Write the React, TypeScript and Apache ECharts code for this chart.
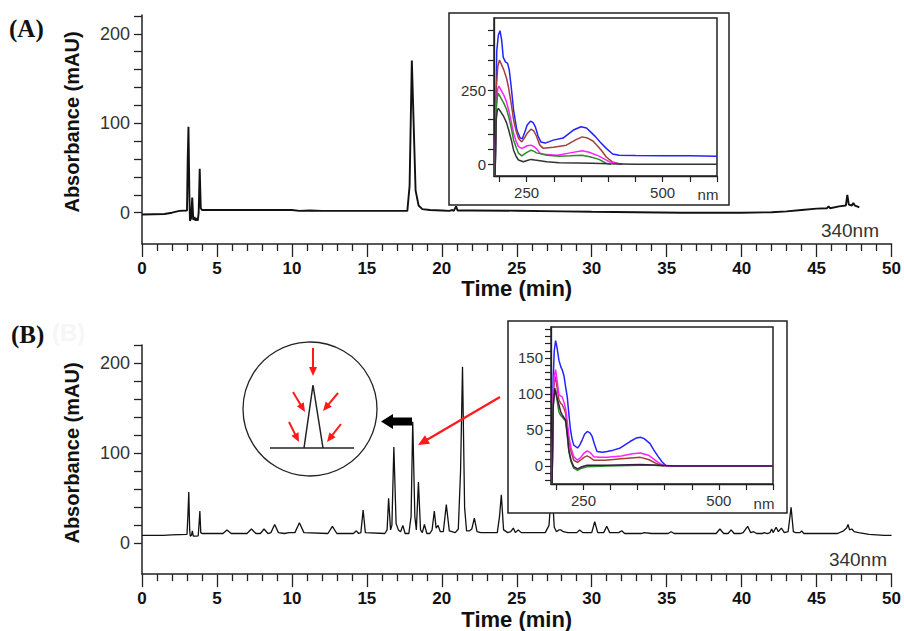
import React, { useEffect, useRef } from "react";
import * as echarts from "echarts";

// ---------- Data ----------
// Chromatogram (A): [time (min), absorbance (mAU)]
const chromA: [number, number][] = [
  [0, -2], [1.5, -1.5], [2, 0], [2.5, 2], [3.0, 2.5], [3.05, 60], [3.1, 96], [3.16, 20], [3.2, -9],
  [3.28, -6], [3.35, 17], [3.42, -8], [3.5, -5], [3.58, -9], [3.65, -6], [3.72, -9], [3.78, 0],
  [3.85, 49], [3.92, 5], [4.0, 3], [7, 3], [10, 3], [10.5, 2], [11.2, 2.5], [12, 2], [17.7, 2],
  [17.85, 30], [18.0, 170], [18.12, 100], [18.25, 25], [18.45, 8], [18.7, 4], [19.2, 3], [20, 2.5],
  [20.5, 2], [20.7, 3], [20.8, 2], [20.95, 7], [21.05, 2.5], [22, 2.5], [25, 2.2], [28, 1.5], [30, 1],
  [33, 0.5], [36, 0], [40, 0], [42, 0.5], [43, 1.5], [44, 3], [45, 4.5], [45.7, 5], [45.8, 7],
  [45.9, 5], [46.5, 7], [46.95, 8], [47.05, 20], [47.15, 9], [47.35, 8], [47.45, 11], [47.55, 8],
  [47.7, 7], [47.85, 6],
];

// Chromatogram (B)
const chromB: [number, number][] = [
  [0, 9], [1.4, 9], [2, 9.5], [3.0, 10], [3.06, 30], [3.12, 57], [3.18, 15], [3.22, 8], [3.3, 9],
  [3.36, 14], [3.42, 8], [3.6, 8], [3.75, 8.5], [3.82, 25], [3.86, 36], [3.92, 12], [4.0, 11],
  [5.4, 11], [5.67, 15], [5.95, 11], [7.0, 11], [7.3, 16], [7.6, 11], [7.9, 11], [8.14, 16],
  [8.4, 11], [8.6, 12], [8.85, 21], [9.1, 12], [9.5, 11], [9.8, 12], [10.2, 12], [10.5, 23],
  [10.8, 12], [12.4, 11], [12.7, 19], [13.0, 11], [14.1, 11], [14.3, 14], [14.45, 11], [14.6, 12],
  [14.75, 37], [14.9, 12], [16.2, 11], [16.35, 15], [16.45, 50], [16.58, 15], [16.67, 20],
  [16.8, 107], [16.95, 22], [17.1, 15], [17.25, 13], [17.4, 20], [17.55, 11], [17.8, 11],
  [17.95, 30], [18.06, 135], [18.2, 30], [18.3, 15], [18.44, 68], [18.58, 15], [18.7, 12],
  [18.84, 21], [19.0, 11], [19.2, 11], [19.35, 15], [19.5, 36], [19.62, 17], [19.75, 20],
  [19.9, 13], [20.1, 13], [20.3, 43], [20.5, 14], [20.9, 12], [21.1, 16], [21.25, 80],
  [21.38, 196], [21.52, 40], [21.65, 14], [21.85, 14], [22.0, 16], [22.17, 28], [22.35, 13],
  [22.6, 12], [23.7, 12], [23.85, 30], [23.97, 54], [24.12, 15], [24.4, 12], [24.6, 13],
  [24.77, 17], [24.9, 12], [25.1, 15], [25.3, 12], [26.9, 12], [27.15, 20], [27.34, 65],
  [27.5, 18], [27.65, 13], [27.8, 15], [27.95, 15], [28.1, 13], [28.4, 12], [29.0, 12],
  [29.2, 15], [29.4, 12], [30.0, 12], [30.2, 24], [30.4, 12], [30.8, 12], [31.0, 19], [31.2, 12],
  [31.8, 12], [32.0, 14], [32.2, 11], [33.3, 11], [33.5, 12], [34, 11], [35.1, 11], [35.3, 13],
  [35.5, 11], [38.3, 11], [38.55, 16], [38.8, 11], [39.1, 11], [39.3, 15], [39.5, 11], [39.9, 11],
  [40.1, 12], [40.4, 19], [40.6, 12], [40.8, 13], [41.0, 11], [41.4, 11], [41.5, 12], [41.7, 11],
  [41.9, 12], [42.0, 16], [42.1, 12], [42.3, 18], [42.45, 13], [42.65, 17], [42.85, 12],
  [43.1, 13], [43.3, 40], [43.45, 13], [43.6, 12], [43.9, 12], [44.0, 14], [44.15, 11],
  [45.5, 11], [46.4, 11], [46.8, 14], [47.0, 17], [47.1, 21], [47.2, 15], [47.35, 16],
  [47.5, 13], [47.8, 12], [48.5, 10], [49.5, 9], [50, 9],
];

// UV spectra, inset (A): [wavelength (nm), absorbance]
const blueA: [number, number][] = [
  [192, -40], [195, 380], [198, 435], [201, 450], [204, 420], [207, 360], [211, 345], [215, 340],
  [218, 318], [222, 255], [226, 182], [232, 115], [238, 88], [242, 86], [246, 105], [251, 132],
  [257, 145], [262, 140], [266, 126], [271, 95], [276, 75], [284, 71], [299, 81], [317, 88],
  [336, 115], [350, 126], [360, 122], [368, 108], [377, 92], [385, 75], [396, 54], [408, 34],
  [420, 30], [450, 29], [500, 28], [550, 28], [600, 27],
];
const brownA: [number, number][] = [
  [192, -40], [194, 250], [197, 330], [200, 351], [204, 335], [208, 318], [213, 290], [217, 256],
  [222, 200], [226, 149], [231, 110], [235, 87], [241, 75], [246, 88], [251, 104], [258, 118],
  [263, 112], [268, 95], [274, 65], [280, 54], [299, 57], [323, 64], [340, 82], [352, 92],
  [362, 88], [372, 78], [380, 62], [388, 45], [396, 25], [408, 7], [420, 1], [426, 0],
];
const magentaA: [number, number][] = [
  [192, -40], [194, 200], [197, 255], [199, 263], [203, 250], [208, 233], [213, 210], [217, 182],
  [222, 140], [226, 104], [231, 75], [235, 59], [241, 53], [246, 57], [251, 62], [258, 64],
  [263, 60], [268, 52], [274, 38], [280, 33], [307, 30], [330, 38], [352, 45], [365, 40],
  [383, 27], [395, 15], [402, 8], [415, 2], [426, 0],
];
const greenA: [number, number][] = [
  [192, -40], [194, 180], [196, 225], [198, 239], [203, 222], [208, 206], [213, 185], [217, 160],
  [222, 120], [226, 81], [231, 55], [235, 37], [241, 28], [249, 38], [258, 47], [263, 44],
  [268, 38], [278, 34], [287, 30], [310, 27], [330, 28], [352, 30], [368, 24], [383, 16],
  [396, 3], [405, 0],
];
const blackA: [number, number][] = [
  [192, -40], [194, 150], [196, 180], [198, 188], [203, 175], [208, 160], [213, 140], [217, 115],
  [222, 80], [226, 47], [231, 25], [235, 14], [244, 8], [251, 12], [258, 16], [265, 14], [287, 8],
  [310, 5], [343, 4], [370, 3], [400, 1], [450, 0], [500, 0], [550, 0], [600, 0],
];

// UV spectra, inset (B)
const blueB: [number, number][] = [
  [192, -25], [194, 120], [196, 160], [198.5, 174], [201, 165], [204.6, 147], [208, 138],
  [211, 133], [214, 125], [217, 110], [220, 96], [223, 72], [226, 50], [229, 37], [232, 29],
  [239, 25], [243, 29], [247.5, 36], [252, 44], [257, 48], [262, 46], [266, 41], [270, 31],
  [275, 20], [285, 19], [293.5, 20], [305, 22], [318, 25], [336, 34], [348, 39], [355, 40],
  [362, 38], [373, 31], [380, 22], [388, 13], [395, 6], [403, 0], [450, 0], [500, 0], [550, 0],
  [600, 0],
];
const brownB: [number, number][] = [
  [192, -25], [194, 95], [196, 115], [198.5, 124], [201, 110], [204.6, 92], [208, 87],
  [210.7, 85], [214, 80], [217, 73], [220, 55], [223, 36], [227, 20], [232, 8], [239, 5],
  [246, 9], [251, 12], [256.7, 14], [262, 12], [269, 8], [290, 8], [320, 10], [355, 12],
  [370, 9], [386, 3], [398, 0],
];
const magentaB: [number, number][] = [
  [192, -25], [194, 100], [196, 125], [198.5, 134], [201, 120], [204.6, 99], [208, 97],
  [210.7, 96], [214, 88], [217, 80], [220, 62], [223, 41], [227, 25], [232, 13], [239, 8],
  [245, 12], [251, 18], [256.7, 21], [262, 19], [269, 13], [280, 12], [293.5, 12], [320, 14],
  [340, 17], [355, 18], [370, 15], [386, 6], [395, 2], [403, 0], [500, 0], [600, 0],
];
const greenB: [number, number][] = [
  [192, -25], [194, 85], [196, 98], [198.5, 105], [201, 92], [204.6, 75], [208, 70],
  [210.7, 68], [214, 65], [217, 62], [220, 42], [223, 20], [227, 6], [232, -3], [239, -6],
  [247, -3], [256.7, -1], [293.5, 0], [355, 1], [380, 1], [400, 0],
];
const blackB: [number, number][] = [
  [192, -25], [194, 80], [196, 100], [197, 108], [201, 95], [204.6, 85], [208, 75], [210.7, 71],
  [214, 67], [217, 64], [220, 45], [223, 22], [227, 8], [232, -1], [239, -4], [247, -1],
  [256.7, 1], [293.5, 1], [355, 2], [390, 1], [420, 0], [500, 0], [600, 0],
];

// Tick values
const mainYTicks = [0, 20, 40, 60, 80, 100, 120, 140, 160, 180, 200, 220];
const mainYLabels = [0, 100, 200];
const insetXTicks = [200, 250, 300, 350, 400, 450, 500, 550, 600];
const insetXLabels = [250, 500];
const insetAYTicks = [0, 50, 100, 150, 200, 250, 300, 350, 400, 450];
const insetAYLabels = [0, 250];
const insetBYTicks = [-20, -10, 0, 10, 20, 30, 40, 50, 60, 70, 80, 90, 100, 110, 120, 130, 140, 150, 160, 170, 180, 190];
const insetBYLabels = [0, 50, 100, 150];

const SANS = "'Liberation Sans', Arial, sans-serif";
const SERIF = "'Liberation Serif', 'Times New Roman', serif";
const AX = "#222";

const specColors = {
  blue: "#2323ff",
  brown: "#a23f3a",
  magenta: "#ff22ff",
  green: "#2b8a2b",
  black: "#333333",
};

function mainX(gridIndex: number) {
  return {
    type: "value",
    gridIndex,
    min: 0,
    max: 50,
    interval: 5,
    axisLine: { onZero: false, lineStyle: { color: AX, width: 1.5 } },
    axisTick: { length: 13, lineStyle: { color: AX, width: 1.3 } },
    minorTick: { show: true, splitNumber: 5, length: 7, lineStyle: { color: AX, width: 1.3 } },
    splitLine: { show: false },
    axisLabel: { fontFamily: SANS, fontWeight: "bold", fontSize: 17, color: "#111", margin: 16 },
    name: "Time (min)",
    nameLocation: "middle",
    nameGap: 33,
    nameTextStyle: { fontFamily: SANS, fontWeight: "bold", fontSize: 22, color: "#111" },
  };
}

function mainY(gridIndex: number, min: number, max: number) {
  return {
    type: "value",
    gridIndex,
    min,
    max,
    axisLine: { show: true, onZero: false, lineStyle: { color: AX, width: 1.5 } },
    axisTick: { show: true, customValues: mainYTicks, length: 8, lineStyle: { color: AX, width: 1.3 } },
    axisLabel: { customValues: mainYLabels, fontFamily: SANS, fontSize: 18, color: "#333", margin: 12 },
    splitLine: { show: false },
  };
}

function insetX(gridIndex: number) {
  return {
    type: "value",
    gridIndex,
    min: 190,
    max: 600,
    z: 10,
    axisLine: { show: true, onZero: false, lineStyle: { color: AX, width: 1.3 } },
    axisTick: { show: true, customValues: insetXTicks, length: 6, lineStyle: { color: AX, width: 1.2 } },
    axisLabel: { customValues: insetXLabels, fontFamily: SANS, fontSize: 15, color: "#333", margin: 9 },
    splitLine: { show: false },
  };
}

function insetY(gridIndex: number, min: number, max: number, ticks: number[], labels: number[]) {
  return {
    type: "value",
    gridIndex,
    min,
    max,
    z: 10,
    axisLine: { show: true, onZero: false, lineStyle: { color: AX, width: 1.3 } },
    axisTick: { show: true, customValues: ticks, length: 6, lineStyle: { color: AX, width: 1.2 } },
    axisLabel: { customValues: labels, fontFamily: SANS, fontSize: 15, color: "#333", margin: 8 },
    splitLine: { show: false },
  };
}

function lineSeries(data: [number, number][], axisIndex: number, color: string, width: number, z: number) {
  return {
    type: "line",
    xAxisIndex: axisIndex,
    yAxisIndex: axisIndex,
    data,
    showSymbol: false,
    symbol: "none",
    clip: true,
    z,
    lineStyle: { color, width },
    emphasis: { disabled: true },
  };
}

function arrow(x1: number, y1: number, x2: number, y2: number, color: string, lw: number, hl: number, hw: number, z: number) {
  const dx = x2 - x1;
  const dy = y2 - y1;
  const len = Math.sqrt(dx * dx + dy * dy);
  const ux = dx / len;
  const uy = dy / len;
  const bx = x2 - ux * hl;
  const by = y2 - uy * hl;
  const px = -uy * hw / 2;
  const py = ux * hw / 2;
  return [
    { type: "line", z, shape: { x1, y1, x2: bx + ux, y2: by + uy }, style: { stroke: color, lineWidth: lw } },
    {
      type: "polygon",
      z,
      shape: { points: [[x2, y2], [bx + px, by + py], [bx - px, by - py]] },
      style: { fill: color },
    },
  ];
}

export default function App() {
  const ref = useRef<HTMLDivElement>(null);

  useEffect(() => {
    if (!ref.current) return;
    const chart = echarts.init(ref.current, null, { renderer: "svg" });

    const RED = "#ff1a1a";
    const graphic: any[] = [
      // inset outer frames
      { type: "rect", z: 5, shape: { x: 449, y: 13, width: 280, height: 192 }, style: { fill: "#fff", stroke: "#222", lineWidth: 1.5 } },
      { type: "rect", z: 5, shape: { x: 508, y: 321, width: 279, height: 192 }, style: { fill: "#fff", stroke: "#222", lineWidth: 1.5 } },
      // circle diagram
      { type: "circle", z: 5, shape: { cx: 310, cy: 409, r: 67 }, style: { fill: "#fff", stroke: "#222", lineWidth: 1.3 } },
      { type: "polyline", z: 6, shape: { points: [[304, 448], [313, 385], [323, 448]] }, style: { stroke: "#222", lineWidth: 1.5, fill: null } },
      { type: "line", z: 6, shape: { x1: 270, y1: 448, x2: 354, y2: 448 }, style: { stroke: "#222", lineWidth: 1.3 } },
      ...arrow(313, 348, 313, 376, RED, 2, 9, 8, 7),
      ...arrow(293, 392, 305, 412, RED, 2, 9, 8, 7),
      ...arrow(289, 422, 299, 442, RED, 2, 9, 8, 7),
      ...arrow(338, 393, 323, 411, RED, 2, 9, 8, 7),
      ...arrow(341, 424, 327, 442, RED, 2, 9, 8, 7),
      // black thick arrow
      {
        type: "polygon",
        z: 7,
        shape: { points: [[381, 421.5], [393, 414], [393, 417.5], [412, 417.5], [412, 425.5], [393, 425.5], [393, 429]] },
        style: { fill: "#000" },
      },
      // long red arrow to peak
      ...arrow(500, 397, 418, 445, RED, 2.2, 11, 10, 20),
      // labels
      { type: "text", z: 20, x: 9, y: 28, style: { text: "(A)", font: `bold 25px ${SERIF}`, fill: "#111", align: "left", verticalAlign: "middle" } },
      { type: "text", z: 20, x: 52, y: 332, style: { text: "(B)", font: `bold 24px ${SANS}`, fill: "#f6f6f6", align: "left", verticalAlign: "middle" } },
      { type: "text", z: 20, x: 11, y: 334, style: { text: "(B)", font: `bold 25px ${SERIF}`, fill: "#111", align: "left", verticalAlign: "middle" } },
      { type: "text", z: 20, x: 879, y: 230, style: { text: "340nm", font: `19px ${SANS}`, fill: "#333", align: "right", verticalAlign: "middle" } },
      { type: "text", z: 20, x: 887, y: 559, style: { text: "340nm", font: `19px ${SANS}`, fill: "#333", align: "right", verticalAlign: "middle" } },
      { type: "text", z: 20, x: 72, y: 122, rotation: Math.PI / 2, style: { text: "Absorbance (mAU)", font: `bold 20px ${SANS}`, fill: "#111", align: "center", verticalAlign: "middle" } },
      { type: "text", z: 20, x: 72, y: 453, rotation: Math.PI / 2, style: { text: "Absorbance (mAU)", font: `bold 20px ${SANS}`, fill: "#111", align: "center", verticalAlign: "middle" } },
      { type: "text", z: 20, x: 708, y: 194, style: { text: "nm", font: `15px ${SANS}`, fill: "#333", align: "center", verticalAlign: "middle" } },
      { type: "text", z: 20, x: 764, y: 503, style: { text: "nm", font: `15px ${SANS}`, fill: "#333", align: "center", verticalAlign: "middle" } },
    ];

    const option: any = {
      animation: false,
      backgroundColor: "#fff",
      grid: [
        { left: 142, top: 15, width: 751, height: 229 },
        { left: 494, top: 18, width: 223, height: 158, show: true, borderColor: "#222", borderWidth: 1.5, backgroundColor: "transparent", z: 10 },
        { left: 142, top: 345, width: 751, height: 230 },
        { left: 551, top: 327, width: 222, height: 157, show: true, borderColor: "#222", borderWidth: 1.5, backgroundColor: "transparent", z: 10 },
      ],
      xAxis: [mainX(0), insetX(1), mainX(2), insetX(3)],
      yAxis: [
        mainY(0, -35, 221),
        insetY(1, -40, 493, insetAYTicks, insetAYLabels),
        mainY(2, -34, 220),
        insetY(3, -25, 193, insetBYTicks, insetBYLabels),
      ],
      series: [
        lineSeries(chromA, 0, "#111", 1.9, 2),
        lineSeries(blueA, 1, specColors.blue, 1.5, 12),
        lineSeries(brownA, 1, specColors.brown, 1.5, 12),
        lineSeries(magentaA, 1, specColors.magenta, 1.5, 12),
        lineSeries(greenA, 1, specColors.green, 1.5, 12),
        lineSeries(blackA, 1, specColors.black, 1.5, 12),
        lineSeries(chromB, 2, "#111", 1.3, 2),
        lineSeries(blueB, 3, specColors.blue, 1.5, 12),
        lineSeries(brownB, 3, specColors.brown, 1.5, 12),
        lineSeries(magentaB, 3, specColors.magenta, 1.5, 12),
        lineSeries(greenB, 3, specColors.green, 1.5, 12),
        lineSeries(blackB, 3, "#3a1a40", 1.5, 12),
      ],
      graphic,
    };

    chart.setOption(option);
    return () => chart.dispose();
  }, []);

  return (
    <div
      ref={ref}
      style={{ position: "fixed", left: 0, top: 0, width: 904, height: 631, background: "#fff" }}
    />
  );
}
